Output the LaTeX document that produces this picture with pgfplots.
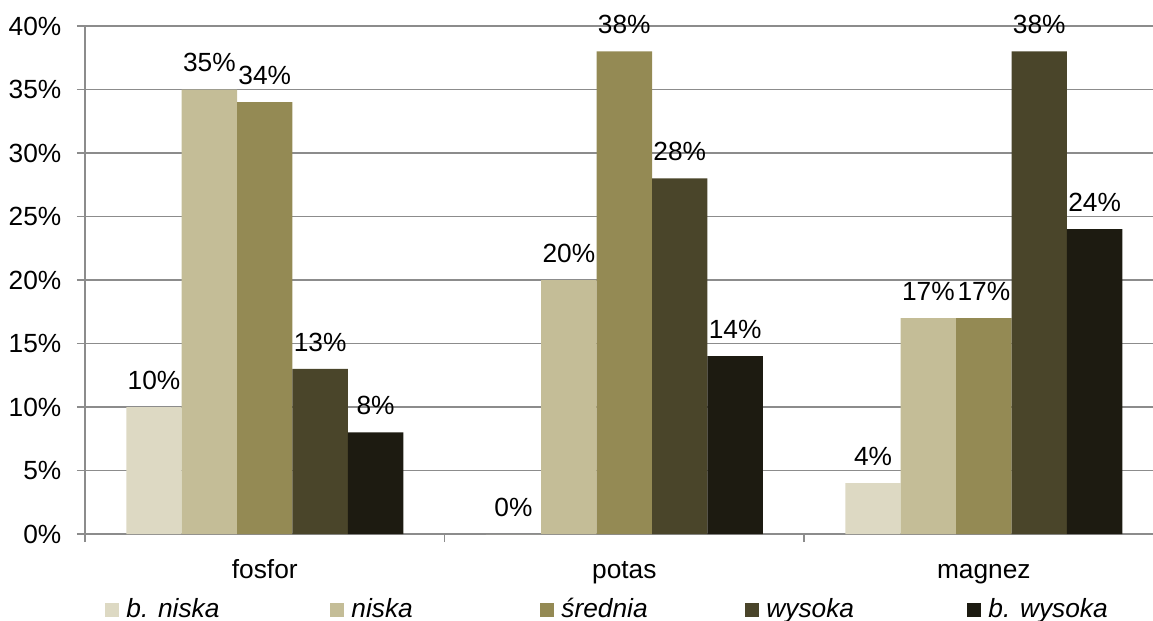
\documentclass[border=0pt]{standalone}
\usepackage{pgfplots}
\pgfplotsset{compat=1.18}
\usepackage{fontspec}
\setmainfont{Liberation Sans}
\definecolor{cA}{HTML}{DDD9C3}
\definecolor{cB}{HTML}{C4BD97}
\definecolor{cC}{HTML}{948A54}
\definecolor{cD}{HTML}{4A452A}
\definecolor{cE}{HTML}{1D1B11}
\definecolor{gridc}{HTML}{8C8C8C}
\begin{document}
\fontsize{13.2}{15.8}\selectfont
\begin{tikzpicture}
\begin{axis}[
  scale only axis,
  width=534bp, height=254bp,
  xmin=-0.5, xmax=2.4705,
  ymin=0, ymax=40,
  ybar=0pt, bar width=27.7bp,
  axis x line*=bottom, axis y line*=left,
  axis line style={gridc, line width=0.75bp, -},
  tick align=outside,
  major tick length=4bp,
  tick style={gridc, line width=0.75bp},
  xtick={-0.5,0.5,1.5},
  xticklabels={},
  extra x ticks={0,1,2},
  extra x tick labels={fosfor,potas,magnez},
  extra x tick style={grid=none, major tick length=0pt,
    xticklabel style={yshift=-8bp, text height=9.6bp, text depth=3bp}},
  ytick={0,5,...,40},
  yticklabel={\pgfmathprintnumber[assume math mode=true]{\tick}\%},
  yticklabel style={xshift=-3.25bp},
  ymajorgrids,
  grid style={gridc, line width=0.75bp},
  nodes near coords={\pgfmathprintnumber[assume math mode=true]{\pgfplotspointmeta}\%},
  every node near coord/.append style={anchor=south, inner sep=0pt, yshift=8.5bp, black},
  legend columns=5,
  legend style={at={(axis description cs:0,0)}, anchor=west, xshift=10bp, yshift=-38bp,
    draw=none, fill=none, inner sep=0pt, nodes={inner sep=0pt},
    /tikz/every odd column/.append style={column sep=3.5bp}},
  legend image code/.code={\fill[#1] (0bp,-3.5bp) rectangle (7bp,3.5bp);},
]
\addplot[fill=cA, draw=none] coordinates {(0,10) (1,0) (2,4)};
\addplot[fill=cB, draw=none] coordinates {(0,35) (1,20) (2,17)};
\addplot[fill=cC, draw=none] coordinates {(0,34) (1,38) (2,17)};
\addplot[fill=cD, draw=none] coordinates {(0,13) (1,28) (2,38)};
\addplot[fill=cE, draw=none] coordinates {(0,8) (1,14) (2,24)};
\addlegendentry{\makebox[102bp][l]{\itshape b. niska}}
\addlegendentry{\makebox[94.5bp][l]{\itshape niska}}
\addlegendentry{\makebox[92bp][l]{\itshape średnia}}
\addlegendentry{\makebox[100.5bp][l]{\itshape wysoka}}
\addlegendentry{\itshape b. wysoka}
\coordinate (ll) at (rel axis cs:0,0);
\coordinate (ur) at (rel axis cs:1,1);
\end{axis}
\pgfresetboundingbox
\path ([xshift=-42.5bp,yshift=-43.5bp]ll) rectangle ([yshift=13bp]ur);
\end{tikzpicture}
\end{document}
